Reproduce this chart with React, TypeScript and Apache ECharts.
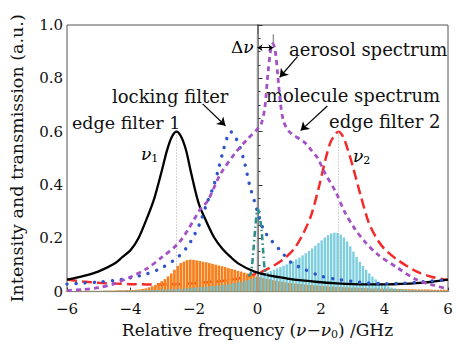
import React, { useEffect, useRef } from "react";
import * as echarts from "echarts";

const FONT = "'DejaVu Serif', serif";

// x ticks / y ticks
const xTicks = [-6, -4, -2, 0, 2, 4, 6];

// edge filter 1 (black solid)
const edge1Freq = [-6, -5.5, -5, -4.5, -4.25, -4, -3.75, -3.5, -3.25, -3.0, -2.85, -2.7, -2.55, -2.4, -2.25, -2.1, -1.85, -1.6, -1.35, -1.1, -0.85, -0.6, -0.1, 0.4, 0.9, 1.4, 1.9, 2.5, 3, 3.5, 4, 4.5, 5, 5.5, 6];
const edge1Val = [0.045, 0.058, 0.076, 0.105, 0.13, 0.155, 0.2, 0.27, 0.35, 0.46, 0.53, 0.58, 0.6, 0.58, 0.53, 0.45, 0.33, 0.26, 0.2, 0.16, 0.13, 0.105, 0.075, 0.06, 0.05, 0.042, 0.036, 0.031, 0.028, 0.027, 0.027, 0.029, 0.032, 0.037, 0.045];

// edge filter 2 (red dashed)
const edge2Freq = [-6, -5.5, -5, -4.5, -4, -3.5, -3, -2.5, -2, -1.5, -1, -0.5, 0, 0.4, 0.8, 1.15, 1.45, 1.7, 1.95, 2.15, 2.3, 2.45, 2.55, 2.7, 2.85, 3.0, 3.25, 3.5, 3.75, 4, 4.4, 5, 5.5, 6];
const edge2Val = [0.045, 0.038, 0.033, 0.03, 0.028, 0.027, 0.027, 0.028, 0.031, 0.036, 0.042, 0.052, 0.068, 0.09, 0.12, 0.16, 0.22, 0.29, 0.4, 0.5, 0.56, 0.59, 0.6, 0.58, 0.53, 0.47, 0.36, 0.26, 0.2, 0.16, 0.12, 0.076, 0.055, 0.044];

// locking filter (blue dotted)
const lockFreq = [-6, -5.5, -5, -4.5, -4, -3.5, -3, -2.5, -2.2, -2.0, -1.8, -1.6, -1.4, -1.25, -1.1, -0.95, -0.85, -0.7, -0.55, -0.4, -0.25, -0.1, 0.05, 0.2, 0.45, 0.75, 1.05, 1.45, 2, 2.5, 3, 3.5, 4, 4.5, 5, 5.5, 6];
const lockVal = [0.028, 0.032, 0.036, 0.042, 0.052, 0.066, 0.09, 0.13, 0.17, 0.21, 0.26, 0.33, 0.39, 0.45, 0.52, 0.58, 0.6, 0.58, 0.54, 0.48, 0.4, 0.34, 0.28, 0.23, 0.19, 0.15, 0.11, 0.085, 0.058, 0.046, 0.038, 0.032, 0.03, 0.031, 0.035, 0.04, 0.045];

// molecule + aerosol spectrum (purple dashed)
const specFreq = [-6, -5.5, -5, -4.5, -4, -3.5, -3.0, -2.5, -2.2, -2.0, -1.8, -1.57, -1.17, -0.7, -0.33, 0, 0.12, 0.23, 0.33, 0.42, 0.48, 0.55, 0.64, 0.72, 0.82, 1.0, 1.48, 1.7, 1.9, 2.1, 2.48, 2.74, 3.04, 3.36, 3.78, 4.4, 5.0, 5.5, 6];
const specVal = [0.004, 0.008, 0.015, 0.03, 0.055, 0.085, 0.13, 0.18, 0.23, 0.27, 0.31, 0.34, 0.44, 0.52, 0.57, 0.61, 0.63, 0.69, 0.82, 0.91, 0.93, 0.91, 0.81, 0.71, 0.64, 0.6, 0.56, 0.53, 0.5, 0.45, 0.37, 0.3, 0.24, 0.19, 0.14, 0.09, 0.045, 0.025, 0.01];

// aerosol through locking filter (teal dash-dot)
const aeroFreq = [-0.3, -0.22, -0.17, -0.12, -0.07, -0.02, 0.02, 0.07, 0.13, 0.18, 0.22, 0.27, 0.3];
const aeroVal = [0.06, 0.065, 0.1, 0.17, 0.24, 0.3, 0.31, 0.28, 0.23, 0.15, 0.09, 0.065, 0.062];

// bar grid: -6.0 .. 6.0 step 0.1
const barFreq = Array.from({ length: 121 }, (_, i) => Math.round((-6 + 0.1 * i) * 10) / 10);

// orange bars
const orangeVal = [
  0.002, 0.002, 0.002, 0.002, 0.002, 0.003, 0.003, 0.003, 0.003, 0.003, 0.003,
  0.003, 0.004, 0.004, 0.004, 0.004, 0.005, 0.005, 0.005, 0.006, 0.006,
  0.006, 0.007, 0.008, 0.010, 0.012, 0.016, 0.020, 0.025, 0.031, 0.039,
  0.047, 0.057, 0.068, 0.082, 0.097, 0.107, 0.113, 0.118, 0.120, 0.119,
  0.117, 0.115, 0.112, 0.110, 0.107, 0.104, 0.101, 0.098, 0.095, 0.092,
  0.088, 0.085, 0.082, 0.078, 0.075, 0.071, 0.068, 0.064, 0.060, 0.057,
  0.054, 0.051, 0.048, 0.046, 0.043, 0.041, 0.039, 0.037, 0.035, 0.033,
  0.032, 0.030, 0.029, 0.028, 0.027, 0.026, 0.025, 0.024, 0.023, 0.022,
  0.021, 0.020, 0.019, 0.019, 0.018, 0.017, 0.017, 0.016, 0.016, 0.015,
  0.015, 0.014, 0.014, 0.013, 0.013, 0.012, 0.012, 0.012, 0.011, 0.011,
  0.011, 0.010, 0.010, 0.010, 0.010, 0.009, 0.009, 0.009, 0.009, 0.008,
  0.008, 0.008, 0.008, 0.008, 0.007, 0.007, 0.007, 0.007, 0.007, 0.006,
];

// cyan bars
const cyanVal = [
  0.002, 0.002, 0.002, 0.002, 0.002, 0.002, 0.002, 0.003, 0.003, 0.003, 0.003,
  0.003, 0.003, 0.003, 0.003, 0.003, 0.004, 0.004, 0.004, 0.004, 0.004,
  0.005, 0.005, 0.005, 0.005, 0.006, 0.006, 0.006, 0.007, 0.007, 0.008,
  0.008, 0.009, 0.009, 0.010, 0.010, 0.011, 0.012, 0.013, 0.014, 0.015,
  0.016, 0.017, 0.018, 0.019, 0.020, 0.021, 0.022, 0.024, 0.025, 0.027,
  0.029, 0.031, 0.033, 0.035, 0.038, 0.041, 0.044, 0.048, 0.052, 0.057,
  0.062, 0.067, 0.072, 0.077, 0.082, 0.087, 0.092, 0.097, 0.102, 0.108,
  0.114, 0.121, 0.128, 0.136, 0.144, 0.153, 0.162, 0.172, 0.182, 0.192,
  0.203, 0.212, 0.218, 0.221, 0.220, 0.214, 0.203, 0.188, 0.170, 0.150,
  0.130, 0.112, 0.096, 0.082, 0.068, 0.056, 0.046, 0.037, 0.030, 0.024,
  0.019, 0.015, 0.012, 0.010, 0.009, 0.008, 0.007, 0.006, 0.006, 0.005,
  0.005, 0.005, 0.004, 0.004, 0.004, 0.004, 0.004, 0.003, 0.003, 0.003,
];

// reference marks (data coordinates)
const nu1 = -2.55;
const nu2 = 2.55;
const filterPeak = 0.6;
const deltaNu = 0.5;
const topMarker = 0.965;
const deltaY = 0.915;

const pairs = (xs: number[], ys: number[]) => xs.map((x, i) => [x, ys[i]]);

export default function App() {
  const ref = useRef<HTMLDivElement>(null);
  useEffect(() => {
    document.body.style.margin = "0";
    const chart = echarts.init(ref.current!, null, { renderer: "svg" });
    const lineBase = { type: "line", showSymbol: false, symbol: "none", silent: true, smooth: 0.3 };
    const option: any = {
      animation: false,
      backgroundColor: "#fff",
      grid: { left: 63, right: 8, top: 25, bottom: 50, show: true, borderColor: "#555", borderWidth: 1, backgroundColor: "transparent" },
      xAxis: {
        type: "value",
        min: -6,
        max: 6,
        interval: 2,
        name: "{t|Relative frequency (}{i|ν}{t|−}{i|ν}{s|0}{t|) /GHz}",
        nameLocation: "middle",
        nameGap: 23,
        nameTextStyle: {
          rich: {
            t: { fontFamily: FONT, fontSize: 17, color: "#111" },
            i: { fontFamily: FONT, fontSize: 17, fontStyle: "italic", color: "#111" },
            s: { fontFamily: FONT, fontSize: 11, color: "#111", padding: [10, 0, 0, 0] },
          },
        },
        axisLine: { show: true, lineStyle: { color: "#555", width: 1 } },
        axisTick: { show: true, inside: true, length: 4, lineStyle: { color: "#333" } },
        axisLabel: {
          fontFamily: FONT,
          fontSize: 15,
          lineHeight: 14,
          color: "#111",
          margin: 10,
          formatter: (v: number) => String(v).replace("-", "−"),
        },
        splitLine: { show: false },
      },
      yAxis: {
        type: "value",
        min: 0,
        max: 1,
        interval: 0.2,
        name: "Intensity and transmission (a.u.)",
        nameLocation: "middle",
        nameRotate: 90,
        nameGap: 41,
        nameTextStyle: { fontFamily: FONT, fontSize: 17.5, color: "#111" },
        axisLine: { show: true, lineStyle: { color: "#444", width: 1.5 } },
        axisTick: { show: true, inside: true, length: 5, lineStyle: { color: "#333" } },
        minorTick: { show: true, splitNumber: 4, length: 3, lineStyle: { color: "#333" } },
        axisLabel: {
          fontFamily: FONT,
          fontSize: 15,
          lineHeight: 13,
          color: "#111",
          margin: 4,
          formatter: (v: number) => (v === 0 ? "0" : v.toFixed(1)),
        },
        splitLine: { show: false },
      },
      series: [
        {
          ...lineBase,
          name: "edge filter 2",
          z: 1,
          data: pairs(edge2Freq, edge2Val),
          lineStyle: { color: "#f42a2a", width: 2.5, type: [10, 5] },
        },
        {
          type: "bar",
          name: "edge-1 aerosol",
          z: 2,
          silent: true,
          barWidth: 2.7,
          barGap: "-50%",
          data: pairs(barFreq, orangeVal),
          itemStyle: { color: "#f5801e" },
        },
        {
          type: "bar",
          name: "edge-2 aerosol",
          z: 2,
          silent: true,
          barWidth: 2.4,
          barGap: "-50%",
          data: pairs(barFreq, cyanVal),
          itemStyle: { color: "#66c6d8", opacity: 0.85 },
        },
        {
          ...lineBase,
          name: "zero line",
          smooth: false,
          z: 3,
          data: [[0, 0], [0, topMarker]],
          lineStyle: { color: "#999", width: 1.5 },
        },
        {
          ...lineBase,
          name: "delta line",
          smooth: false,
          z: 3,
          data: [[deltaNu, 0.925], [deltaNu, topMarker]],
          lineStyle: { color: "#999", width: 1.5 },
        },
        {
          ...lineBase,
          name: "nu1",
          smooth: false,
          z: 3,
          data: [[nu1, 0], [nu1, filterPeak]],
          lineStyle: { color: "#aaa", width: 1, type: [1, 2] },
        },
        {
          ...lineBase,
          name: "nu2",
          smooth: false,
          z: 3,
          data: [[nu2, 0], [nu2, filterPeak]],
          lineStyle: { color: "#aaa", width: 1, type: [1, 2] },
        },
        {
          ...lineBase,
          name: "edge filter 1",
          z: 4,
          data: pairs(edge1Freq, edge1Val),
          lineStyle: { color: "#000", width: 2.3 },
        },
        {
          ...lineBase,
          name: "locking filter",
          z: 4,
          data: pairs(lockFreq, lockVal),
          lineStyle: { color: "#2d55c8", width: 3.4, type: [0.1, 9], cap: "round" },
        },
        {
          ...lineBase,
          name: "spectrum",
          z: 4,
          data: pairs(specFreq, specVal),
          lineStyle: { color: "#a452c6", width: 2.8, type: [5, 4] },
        },
        {
          ...lineBase,
          name: "aerosol locking",
          z: 4,
          smooth: 0.2,
          data: pairs(aeroFreq, aeroVal),
          lineStyle: { color: "#2a8e8a", width: 2.5, type: [6, 3, 1.5, 3] },
        },
        {
          type: "line",
          name: "arrows",
          z: 5,
          data: [],
          markLine: {
            silent: true,
            animation: false,
            symbol: ["none", "arrow"],
            symbolSize: 8,
            label: { show: false },
            lineStyle: { color: "#000", width: 1.2, type: "solid" },
            data: [
              [{ coord: [-1.73, 0.704] }, { coord: [-1.01, 0.622] }],
              [{ coord: [1.26, 0.881] }, { coord: [0.7, 0.804] }],
              [{ coord: [2.2, 0.696] }, { coord: [1.36, 0.604] }],
            ],
          },
        },
        {
          type: "line",
          name: "delta arrow",
          z: 5,
          data: [],
          markLine: {
            silent: true,
            animation: false,
            symbol: ["arrow", "arrow"],
            symbolSize: 5,
            label: { show: false },
            lineStyle: { color: "#000", width: 1, type: "solid" },
            data: [[{ coord: [0, deltaY] }, { coord: [deltaNu, deltaY] }]],
          },
        },
      ],
      graphic: [
        { type: "text", left: 112, top: 87, style: { text: "locking filter", font: `18px ${FONT}`, fill: "#111" } },
        { type: "text", left: 72, top: 114, style: { text: "edge filter 1", font: `17.5px ${FONT}`, fill: "#111" } },
        { type: "text", left: 289, top: 40, style: { text: "aerosol spectrum", font: `18px ${FONT}`, fill: "#111" } },
        { type: "text", left: 266, top: 86, style: { text: "molecule spectrum", font: `18px ${FONT}`, fill: "#111" } },
        { type: "text", left: 329, top: 112, style: { text: "edge filter 2", font: `18px ${FONT}`, fill: "#111" } },
        {
          type: "text",
          left: 231,
          top: 38,
          style: {
            text: "{d|Δ}{v|ν}",
            rich: {
              d: { fontFamily: FONT, fontSize: 17, color: "#111" },
              v: { fontFamily: FONT, fontSize: 17, fontStyle: "italic", color: "#111" },
            },
          },
        },
        {
          type: "text",
          left: 141,
          top: 145,
          style: {
            text: "{v|ν}{s|1}",
            rich: {
              v: { fontFamily: FONT, fontSize: 17, fontStyle: "italic", color: "#111" },
              s: { fontFamily: FONT, fontSize: 11, color: "#111", padding: [10, 0, 0, 0] },
            },
          },
        },
        {
          type: "text",
          left: 353,
          top: 147,
          style: {
            text: "{v|ν}{s|2}",
            rich: {
              v: { fontFamily: FONT, fontSize: 17, fontStyle: "italic", color: "#111" },
              s: { fontFamily: FONT, fontSize: 11, color: "#111", padding: [10, 0, 0, 0] },
            },
          },
        },
      ],
    };
    chart.setOption(option);
    return () => chart.dispose();
  }, []);
  return <div ref={ref} style={{ width: 456, height: 345 }} />;
}
